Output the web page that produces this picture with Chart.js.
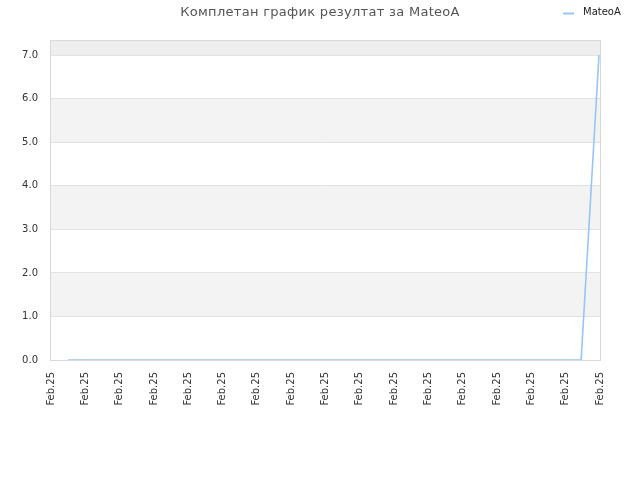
<!DOCTYPE html>
<html>
<head>
<meta charset="utf-8">
<script src="https://cdn.jsdelivr.net/npm/chart.js@4"></script>
<style>
html,body{margin:0;padding:0;background:#fff;}
#wrap{width:640px;height:480px;}
</style>
</head>
<body>
<div id="wrap"><canvas id="c" width="640" height="480"></canvas></div>
<script>
const titleText = "Комплетан график резултат за MateoA";
const seriesName = "MateoA";
const tickLabels = ["Feb.25","Feb.25","Feb.25","Feb.25","Feb.25","Feb.25","Feb.25","Feb.25","Feb.25","Feb.25","Feb.25","Feb.25","Feb.25","Feb.25","Feb.25","Feb.25","Feb.25"];
const xValues = [0.5, 15.45, 15.97];
const yValues = [0, 0, 7];
const yMax = 7.35;

const lineColor = '#96c6f4';

const bandsPlugin = {
  id: 'bands',
  beforeDraw(chart) {
    const {ctx, chartArea: a, scales: {y}} = chart;
    ctx.save();
    for (let v = 0; v < yMax; v++) {
      const top = y.getPixelForValue(Math.min(v + 1, yMax));
      const bot = y.getPixelForValue(v);
      if (v >= 7) ctx.fillStyle = '#eeeeee';
      else if (v % 2 === 1) ctx.fillStyle = '#f3f3f3';
      else continue;
      ctx.fillRect(a.left, top, a.right - a.left, bot - top);
    }
    ctx.restore();
  },
  beforeDatasetsDraw(chart) {
    const {ctx, chartArea: a} = chart;
    ctx.save();
    ctx.strokeStyle = '#d9d9d9';
    ctx.lineWidth = 1;
    ctx.strokeRect(a.left - 0.5, a.top + 0.5, a.right - a.left + 1, a.bottom - a.top);
    ctx.restore();
  },
  afterDraw(chart) {
    const {ctx} = chart;
    ctx.save();
    ctx.fillStyle = '#555555';
    ctx.font = '13px "DejaVu Sans"';
    try { ctx.letterSpacing = '0.3px'; } catch (e) {}
    ctx.textAlign = 'center';
    ctx.textBaseline = 'middle';
    ctx.fillText(titleText, 320, 12.5);
    try { ctx.letterSpacing = '0px'; } catch (e) {}
    ctx.strokeStyle = lineColor;
    ctx.lineWidth = 2;
    ctx.beginPath();
    ctx.moveTo(563, 13.5);
    ctx.lineTo(574, 13.5);
    ctx.stroke();
    ctx.fillStyle = '#222222';
    ctx.font = '10px "DejaVu Sans"';
    ctx.textAlign = 'left';
    ctx.fillText(seriesName, 583, 12.5);
    ctx.restore();
  }
};

new Chart(document.getElementById('c'), {
  type: 'line',
  data: {
    datasets: [{
      label: seriesName,
      data: xValues.map((x, i) => ({x: x, y: yValues[i]})),
      borderColor: lineColor,
      borderWidth: 1.6,
      pointRadius: 0,
      fill: false,
      tension: 0
    }]
  },
  options: {
    responsive: false,
    animation: false,
    layout: {padding: {top: 40, right: 40, left: 0, bottom: 0}},
    plugins: {legend: {display: false}, title: {display: false}, tooltip: {enabled: false}},
    scales: {
      x: {
        type: 'linear',
        min: 0,
        max: 16,
        afterFit(s) { s.height = 120; },
        afterBuildTicks(s) { s.ticks = tickLabels.map((_, i) => ({value: i})); },
        ticks: {
          autoSkip: false,
          maxRotation: 90,
          minRotation: 90,
          padding: 12,
          color: '#333333',
          font: {family: 'DejaVu Sans', size: 10},
          callback: (v, i) => tickLabels[i]
        },
        grid: {display: false, drawTicks: false},
        border: {display: false}
      },
      y: {
        min: 0,
        max: yMax,
        afterFit(s) { s.width = 51; },
        afterBuildTicks(s) { s.ticks = [0,1,2,3,4,5,6,7].map(v => ({value: v})); },
        ticks: {
          padding: 13,
          color: '#333333',
          font: {family: 'DejaVu Sans', size: 10},
          callback: v => Number(v).toFixed(1)
        },
        grid: {color: '#e2e2e2', drawTicks: false, lineWidth: 1},
        border: {display: false}
      }
    }
  },
  plugins: [bandsPlugin]
});
</script>
</body>
</html>
